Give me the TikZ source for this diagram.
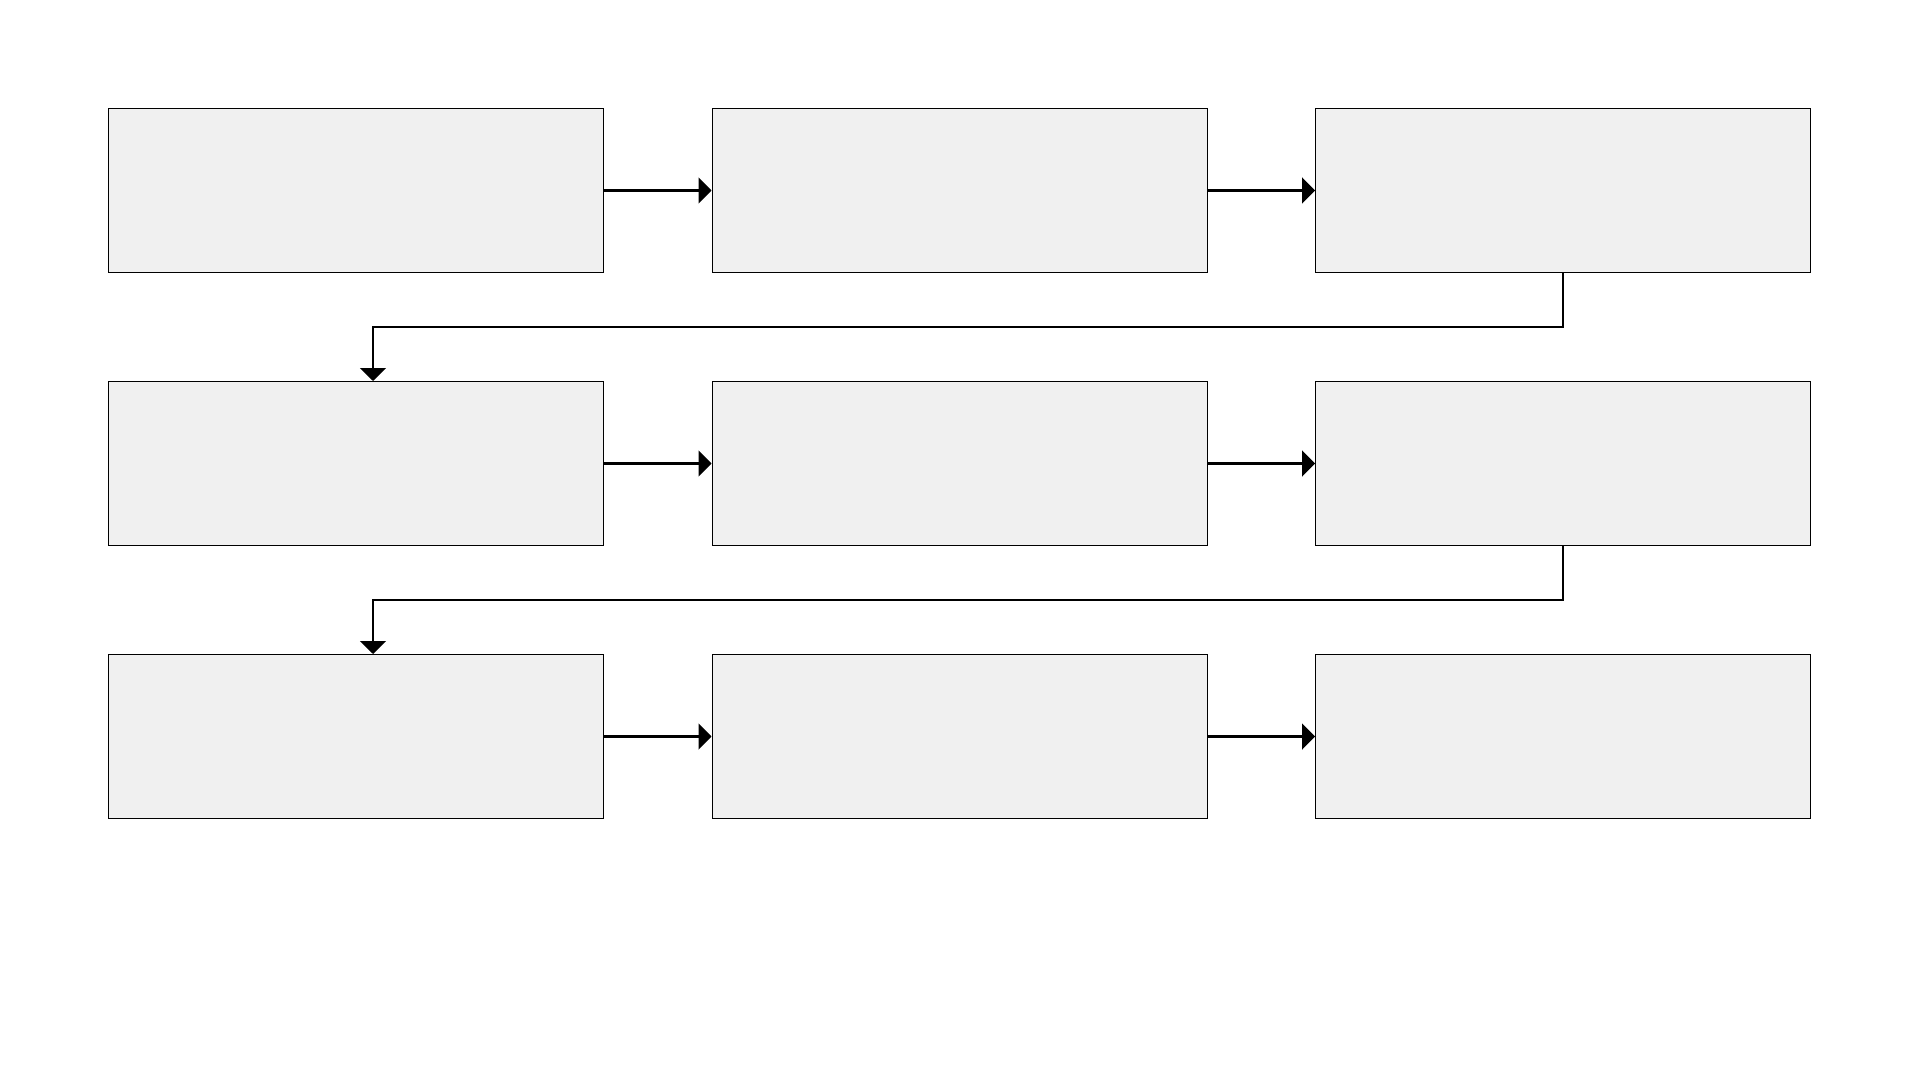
\documentclass[tikz,border=0pt]{standalone}
\usepackage{tikz}
\usetikzlibrary{arrows.meta,calc,positioning}
\definecolor{cajagris}{rgb}{0.94,0.94,0.94}
\tikzset{
  caja/.style={
    draw=black,
    line width=.5pt,
    fill=cajagris,
    minimum width=247.5pt,
    minimum height=82pt,
    inner sep=0pt
  },
  arrow/.style={
    -{Triangle[length=6.5pt,width=13pt]},
    line width=1.1pt,
    black
  }
}
\begin{document}
\begin{tikzpicture}[node distance=54pt and 53.75pt]
\useasboundingbox[fill=white] (0,0) rectangle (960pt,-540pt);
% fila 1
\node[caja,anchor=north west] (a1) at (54pt,-54pt) {};
\node[caja,right=of a1] (b1) {};
\node[caja,right=of b1] (c1) {};
% fila 2
\node[caja,below=of a1] (a2) {};
\node[caja,right=of a2] (b2) {};
\node[caja,right=of b2] (c2) {};
% fila 3
\node[caja,below=of a2] (a3) {};
\node[caja,right=of a3] (b3) {};
\node[caja,right=of b3] (c3) {};
\draw[arrow] (a1) -- (b1);
\draw[arrow] (b1) -- (c1);
\draw[arrow] (c1.south) -- ++(0,-27pt) -| ([xshift=8.5pt]a2.north);
\draw[arrow] (a2) -- (b2);
\draw[arrow] (b2) -- (c2);
\draw[arrow] (c2.south) -- ++(0,-27pt) -| ([xshift=8.5pt]a3.north);
\draw[arrow] (a3) -- (b3);
\draw[arrow] (b3) -- (c3);
\end{tikzpicture}
\end{document}
